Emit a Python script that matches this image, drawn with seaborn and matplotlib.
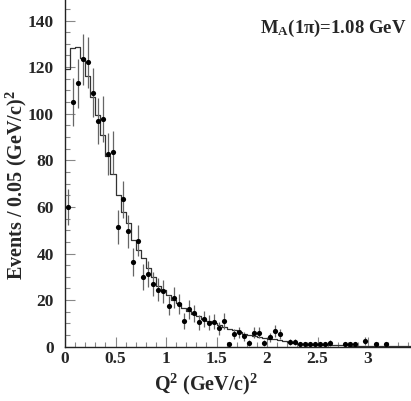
import numpy as np
import pandas as pd
import matplotlib
matplotlib.use("Agg")
import matplotlib.pyplot as plt
import seaborn as sns
from matplotlib.ticker import MultipleLocator

# ---- data ----
# MC histogram (bin width 0.05, left edges from 0)
mc_values = [119, 128, 128.5, 124, 116, 107, 99.5, 91, 82, 74,
             65, 58, 53, 46, 41.5, 38, 33.6, 30, 26, 24.3,
             22, 20, 18.6, 16.8, 15.5, 14.2, 13, 12, 11.2, 10.2,
             9.3, 8.5, 7.8, 7, 6.2, 5.6, 5, 4.6, 4.2, 3.8,
             3.5, 3.1, 2.8, 2.4, 2.0, 1.6, 1.3, 1.0, 0.9, 0.8,
             0.8, 0.7, 0.7, 0.6, 0.6, 0.6, 0.5, 0.5, 0.5, 0.5,
             0.4, 0.4, 0.4, 0.4, 0.3, 0.3, 0.3, 0.3, 0.3]
# Data points (bin centres) with errors; nan = empty bin
data_x = [0.025, 0.075, 0.125, 0.175, 0.225, 0.275, 0.325, 0.375, 0.425, 0.475,
          0.525, 0.575, 0.625, 0.675, 0.725, 0.775, 0.825, 0.875, 0.925, 0.975,
          1.025, 1.075, 1.125, 1.175, 1.225, 1.275, 1.325, 1.375, 1.425, 1.475,
          1.525, 1.575, 1.625, 1.675, 1.725, 1.775, 1.825, 1.875, 1.925, 1.975,
          2.025, 2.075, 2.125, 2.175, 2.225, 2.275, 2.325, 2.375, 2.425, 2.475,
          2.525, 2.575, 2.625, 2.675, 2.725, 2.775, 2.825, 2.875, 2.925, 2.975,
          3.025, 3.075, 3.125, 3.175]
data_y = [60, 105, 113, 123.3, 122, 109, 97, 97.6, 82.6, 83.4,
          51.3, 63.3, 49.5, 36.5, 45.5, 29.8, 31.2, 26.8, 24.4, 23.8,
          17.6, 21, 18.2, 11, 16, 14.3, 10.4, 12, 10.2, 10.8,
          8, 11, 1, 5.5, 6.1, 4.4, 1.5, 6, 6, 1.5,
          4, 6.8, 5.5, np.nan, 2, 2, 1, 1, 1, 1,
          1, 1, 1.5, np.nan, np.nan, 1, 1, 1, np.nan, 2.5,
          np.nan, 1, np.nan, 1]
data_err = [7.7, 10.2, 10.6, 11.1, 11, 10.4, 9.8, 9.9, 9.1, 9.1,
            7.2, 8, 7, 6, 6.7, 5.5, 5.6, 5.2, 4.9, 4.9,
            4.2, 4.6, 4.3, 3.3, 4, 3.8, 3.2, 3.5, 3.2, 3.3,
            2.8, 3.3, 1, 2.3, 2.5, 2.1, 1.2, 2.4, 2.4, 1.2,
            2, 2.6, 2.3, np.nan, 1.4, 1.4, 1, 1, 1, 1,
            1, 1, 1.2, np.nan, np.nan, 1, 1, 1, np.nan, 1.6,
            np.nan, 1, np.nan, 1]
x_ticks = [0, 0.5, 1, 1.5, 2, 2.5, 3]
y_ticks = [0, 20, 40, 60, 80, 100, 120, 140]
x_label = r"Q$^{\mathrm{2}}$ (GeV/c)$^{\mathrm{2}}$"
y_label = r"Events / 0.05 (GeV/c)$^{\mathrm{2}}$"
annot = r"M$_{\mathrm{A}}$(1π)=1.08 GeV"

bin_width = 0.05
mc_left = [i * bin_width for i in range(len(mc_values))]
mc_df = pd.DataFrame({"q2": [l + bin_width / 2 for l in mc_left], "w": mc_values})
dat_df = pd.DataFrame({"q2": data_x, "n": data_y, "err": data_err}).dropna()

# ---- style ----
sns.set_theme(style="white")
plt.rcParams["font.family"] = ["Liberation Serif", "DejaVu Serif"]
plt.rcParams["font.weight"] = "bold"
plt.rcParams["mathtext.fontset"] = "custom"
plt.rcParams["mathtext.rm"] = "Liberation Serif:bold"
plt.rcParams["mathtext.bf"] = "Liberation Serif:bold"
plt.rcParams["mathtext.it"] = "Liberation Serif:bold"

fig = plt.figure(figsize=(4.11, 4.01), dpi=100)
ax = fig.add_axes([65 / 411, 54.3 / 401, 346 / 411, 346.7 / 401])

edges = [i * bin_width for i in range(len(mc_values) + 1)]
sns.histplot(data=mc_df, x="q2", weights="w", bins=edges, element="step",
             fill=False, color="#333333", linewidth=0.9, ax=ax)

ax.errorbar(dat_df["q2"], dat_df["n"], yerr=dat_df["err"], fmt="none",
            ecolor="#666666", elinewidth=0.9, capsize=0, zorder=3)
sns.scatterplot(data=dat_df, x="q2", y="n", color="black", s=14,
                edgecolor="black", linewidth=0, ax=ax, zorder=4)

ax.set_xlim(0, 346 / 101)
ax.set_ylim(0, 346.7 / 2.33)
ax.set_xticks(x_ticks)
ax.set_xticklabels([f"{t:g}" for t in x_ticks])
ax.set_yticks(y_ticks)
ax.xaxis.set_minor_locator(MultipleLocator(0.1))
ax.yaxis.set_minor_locator(MultipleLocator(5))
ax.tick_params(which="major", direction="in", length=7, width=0.8, color="#888888",
               labelsize=12.5, bottom=True, left=True)
ax.tick_params(axis="y", which="major", pad=8)
ax.tick_params(axis="x", which="major", pad=3)
ax.tick_params(which="minor", direction="in", length=3.5, width=0.8, color="#888888",
               bottom=True, left=True)
for lab in ax.get_xticklabels() + ax.get_yticklabels():
    lab.set_fontweight("bold")

for s in ["top", "right"]:
    ax.spines[s].set_visible(False)
for s in ["left", "bottom"]:
    ax.spines[s].set_color("#222222")
    ax.spines[s].set_linewidth(1.0)

ax.set_xlabel(x_label, fontsize=14.5, fontweight="bold")
ax.xaxis.set_label_coords(0.408, -0.072)
ax.set_ylabel(y_label, fontsize=14.5, fontweight="bold")
ax.yaxis.set_label_coords(-0.104, 0.466)
ax.text(0.775, 0.919, annot, transform=ax.transAxes, ha="center", va="center",
        fontsize=13.5, fontweight="bold")

fig.savefig("out.png", dpi=100)
